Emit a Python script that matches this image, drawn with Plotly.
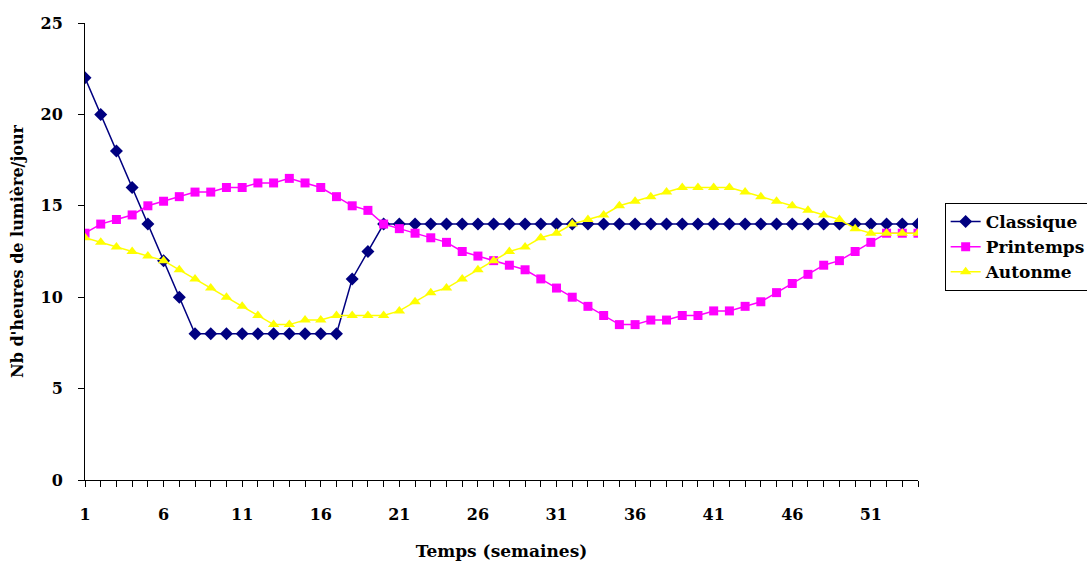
import plotly.graph_objects as go

weeks = list(range(1, 55))

classique = [22, 20, 18, 16, 14, 12, 10, 8, 8, 8,
             8, 8, 8, 8, 8, 8, 8, 11, 12.5, 14,
             14, 14, 14, 14, 14, 14, 14, 14, 14, 14,
             14, 14, 14, 14, 14, 14, 14, 14, 14, 14,
             14, 14, 14, 14, 14, 14, 14, 14, 14, 14,
             14, 14, 14, 14]

printemps = [13.5, 14, 14.25, 14.5, 15, 15.25, 15.5, 15.75, 15.75, 16,
             16, 16.25, 16.25, 16.5, 16.25, 16, 15.5, 15, 14.75, 14,
             13.75, 13.5, 13.25, 13, 12.5, 12.25, 12, 11.75, 11.5, 11,
             10.5, 10, 9.5, 9, 8.5, 8.5, 8.75, 8.75, 9, 9,
             9.25, 9.25, 9.5, 9.75, 10.25, 10.75, 11.25, 11.75, 12, 12.5,
             13, 13.5, 13.5, 13.5]

autonme = [13.25, 13, 12.75, 12.5, 12.25, 12, 11.5, 11, 10.5, 10,
           9.5, 9, 8.5, 8.5, 8.75, 8.75, 9, 9, 9, 9,
           9.25, 9.75, 10.25, 10.5, 11, 11.5, 12, 12.5, 12.75, 13.25,
           13.5, 14, 14.25, 14.5, 15, 15.25, 15.5, 15.75, 16, 16,
           16, 16, 15.75, 15.5, 15.25, 15, 14.75, 14.5, 14.25, 13.75,
           13.5, 13.5, 13.5, 13.5]

x_labels = [str(w) if (w - 1) % 5 == 0 else "" for w in weeks]
y_ticks = [0, 5, 10, 15, 20, 25]

serif = "DejaVu Serif"
fsize = 16

fig = go.Figure()
fig.add_trace(go.Scatter(x=weeks, y=classique, name="Classique", mode="lines+markers",
                         line=dict(color="#000080", width=1.5),
                         marker=dict(symbol="diamond", size=10, color="#000080")))
fig.add_trace(go.Scatter(x=weeks, y=printemps, name="Printemps", mode="lines+markers",
                         line=dict(color="#FF00FF", width=1.5),
                         marker=dict(symbol="square", size=9, color="#FF00FF")))
fig.add_trace(go.Scatter(x=weeks, y=autonme, name="Autonme", mode="lines+markers",
                         line=dict(color="#FFFF00", width=1.5),
                         marker=dict(symbol="triangle-up", size=10, color="#FFFF00")))

fig.update_layout(
    width=1087, height=565,
    margin=dict(l=85, r=169, t=23, b=85, autoexpand=False),
    paper_bgcolor="white", plot_bgcolor="white",
    font=dict(family=serif, size=fsize, color="black", weight="bold"),
    showlegend=True,
    legend=dict(x=1.032, y=0.606, xanchor="left", yanchor="top",
                bordercolor="black", borderwidth=1, bgcolor="white",
                font=dict(family=serif, size=fsize + 1, color="black", weight="bold"),
                tracegroupgap=0, itemwidth=30),
    xaxis=dict(range=[1, 54], tickmode="array", tickvals=weeks, ticktext=x_labels,
               ticks="outside", ticklen=6, tickcolor="black", tickwidth=1,
               showline=True, linecolor="black", linewidth=1, showgrid=False,
               zeroline=False, ticklabelstandoff=14, automargin=False,
               tickfont=dict(family=serif, size=fsize, color="black", weight="bold"),
               title=dict(text="Temps (semaines)", standoff=21,
                          font=dict(family=serif, size=fsize + 1, color="black", weight="bold"))),
    yaxis=dict(range=[0, 25], tickmode="array", tickvals=y_ticks,
               ticks="outside", ticklen=6, tickcolor="black", tickwidth=1,
               showline=True, linecolor="black", linewidth=1, showgrid=False,
               zeroline=False, ticklabelstandoff=12, automargin=False,
               tickfont=dict(family=serif, size=fsize, color="black", weight="bold"),
               title=dict(text="Nb d'heures de lumière/jour", standoff=12,
                          font=dict(family=serif, size=fsize, color="black", weight="bold"))),
)

fig.write_html("out.html")
